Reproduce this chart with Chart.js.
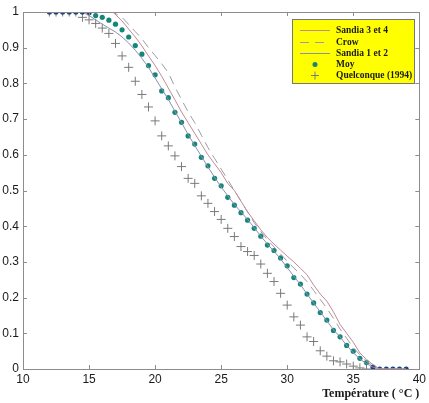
<!DOCTYPE html>
<html>
<head>
<meta charset="utf-8">
<script src="https://cdn.jsdelivr.net/npm/chart.js@4"></script>
<style>
  html, body { margin: 0; padding: 0; background: #fff; overflow: hidden; }
  #chart { display: block; }
</style>
</head>
<body>
<canvas id="chart" width="429" height="403"></canvas>
<script>
// Data.
var moyTemp = [12,12.5,13,13.5,14,14.5,15,15.5,16,16.5,17,17.5,18,18.5,19,19.5,20,20.5,21,21.5,22,22.5,23,23.5,24,24.5,25,25.5,26,26.5,27,27.5,28,28.5,29,29.5,30,30.5,31,31.5,32,32.5,33,33.5,34,34.5,35,35.5,36,36.5,37,37.5,38,38.5,39];
var moyValues = [1,1,1,1,1,1,0.998,0.99,0.985,0.977,0.966,0.95,0.93,0.906,0.882,0.85,0.824,0.779,0.76,0.719,0.691,0.653,0.63,0.593,0.569,0.534,0.513,0.481,0.459,0.438,0.417,0.394,0.372,0.347,0.332,0.311,0.289,0.256,0.238,0.21,0.185,0.158,0.137,0.108,0.09,0.066,0.05,0.03,0.018,0.005,0,0,0,0,0];

var quelTemp = [12,12.5,13,13.5,14,14.5,15,15.5,16,16.5,17,17.5,18,18.5,19,19.5,20,20.5,21,21.5,22,22.5,23,23.5,24,24.5,25,25.5,26,26.5,27,27.5,28,28.5,29,29.5,30,30.5,31,31.5,32,32.5,33,33.5,34,34.5,35,35.5,36];
var quelValues = [1,1,1,1,1,0.985,0.978,0.968,0.955,0.94,0.912,0.877,0.845,0.806,0.769,0.734,0.695,0.653,0.625,0.597,0.567,0.534,0.52,0.485,0.464,0.441,0.419,0.394,0.371,0.343,0.329,0.318,0.294,0.268,0.245,0.212,0.179,0.146,0.123,0.09,0.077,0.051,0.036,0.023,0.02,0.014,0.008,0.003,0];

var sandiaTemp = [12,16.8,17.5,18,18.5,19,19.5,20,20.5,21,21.5,22,22.5,23,23.5,24,24.5,25,25.5,26,26.5,27,27.5,28,28.5,29,29.5,30,30.5,31,31.5,32,32.5,33,33.5,34,34.5,35,35.5,36,36.5,37,39];
var sandia34Values = [1,1,0.975,0.952,0.93,0.905,0.877,0.85,0.82,0.787,0.754,0.72,0.69,0.66,0.63,0.6,0.575,0.55,0.52,0.5,0.47,0.44,0.415,0.39,0.368,0.35,0.333,0.316,0.3,0.282,0.264,0.235,0.21,0.19,0.16,0.125,0.1,0.075,0.045,0.027,0.012,0,0];
var crowValues = [1,1,0.985,0.965,0.945,0.925,0.9,0.878,0.855,0.83,0.79,0.755,0.72,0.69,0.655,0.62,0.59,0.56,0.53,0.5,0.47,0.44,0.41,0.385,0.362,0.342,0.322,0.302,0.283,0.265,0.245,0.22,0.195,0.17,0.142,0.112,0.086,0.06,0.04,0.022,0.008,0,0];

var sandia12Temp = [12,14.5,15,15.5,16,16.5,17,17.5,18,18.5,19,19.5,20,20.5,21,21.5,22,22.5,23,23.5,24,24.5,25,25.5,26,26.5,27,27.5,28,28.5,29,29.5,30,30.5,31,31.5,32,32.5,33,33.5,34,34.5,35,35.5,36,36.5,37,39];
var sandia12Values = [1,1,0.99,0.978,0.966,0.955,0.944,0.93,0.913,0.893,0.87,0.845,0.815,0.785,0.755,0.722,0.69,0.657,0.626,0.596,0.566,0.537,0.51,0.485,0.461,0.44,0.419,0.396,0.372,0.35,0.33,0.308,0.284,0.26,0.236,0.21,0.185,0.16,0.135,0.11,0.09,0.066,0.046,0.028,0.015,0.005,0,0];

var xTicks = [10, 15, 20, 25, 30, 35, 40];
var yTicks = [0, 0.1, 0.2, 0.3, 0.4, 0.5, 0.6, 0.7, 0.8, 0.9, 1];
var yTickLabels = ['0', '0.1', '0.2', '0.3', '0.4', '0.5', '0.6', '0.7', '0.8', '0.9', '1'];

function toPoints(xs, ys) {
  var pts = [];
  for (var i = 0; i < xs.length; i++) {
    pts.push({x: xs[i], y: ys[i]});
  }
  return pts;
}

// Frame with inward ticks, matlab style.
var framePlugin = {
  id: 'frame',
  afterDatasetsDraw: function (chart) {
    var ctx = chart.ctx;
    var a = chart.chartArea;
    var xs = chart.scales.x, ys = chart.scales.y;
    ctx.save();
    ctx.strokeStyle = '#8c8c8c';
    ctx.lineWidth = 1;
    ctx.strokeRect(Math.round(a.left) + 0.5, Math.round(a.top) + 0.5, Math.round(a.right - a.left), Math.round(a.bottom - a.top));
    ctx.beginPath();
    xTicks.forEach(function (t) {
      var px = Math.round(xs.getPixelForValue(t)) + 0.5;
      ctx.moveTo(px, a.bottom); ctx.lineTo(px, a.bottom - 4);
      ctx.moveTo(px, a.top); ctx.lineTo(px, a.top + 4);
    });
    yTicks.forEach(function (t) {
      var py = Math.round(ys.getPixelForValue(t)) + 0.5;
      ctx.moveTo(a.left, py); ctx.lineTo(a.left + 4, py);
      ctx.moveTo(a.right, py); ctx.lineTo(a.right - 4, py);
    });
    ctx.stroke();
    ctx.restore();
  },
  afterDraw: function (chart) {
    // Legend box.
    var ctx = chart.ctx;
    var bx = 292, by = 19, bw = 122, bh = 64;
    ctx.save();
    ctx.fillStyle = '#ffff00';
    ctx.fillRect(bx, by, bw, bh);
    ctx.strokeStyle = '#777';
    ctx.lineWidth = 1;
    ctx.strokeRect(bx + 0.5, by + 0.5, bw, bh);
    ctx.font = 'bold 9.5px "Liberation Serif", "Times New Roman", serif';
    ctx.textBaseline = 'middle';
    var rowY = [30, 42, 53, 64, 75];
    chart.data.datasets.forEach(function (ds, i) {
      var y = rowY[i] + 0.5;
      ctx.strokeStyle = ds.borderColor;
      ctx.lineWidth = 1;
      if (ds.showLine) {
        ctx.setLineDash(ds.borderDash || []);
        ctx.beginPath();
        ctx.moveTo(300, y); ctx.lineTo(330, y);
        ctx.stroke();
        ctx.setLineDash([]);
      } else if (ds.pointStyle === 'cross') {
        ctx.beginPath();
        ctx.moveTo(311, y); ctx.lineTo(319, y);
        ctx.moveTo(315, y - 4); ctx.lineTo(315, y + 4);
        ctx.stroke();
      } else {
        ctx.fillStyle = '#14877a';
        ctx.beginPath();
        ctx.arc(315, y, 2.5, 0, Math.PI * 2);
        ctx.fill();
      }
      ctx.fillStyle = '#1a1a1a';
      ctx.fillText(ds.label, 336, y);
    });
    ctx.restore();
  }
};

var ctx = document.getElementById('chart').getContext('2d');
var chart = new Chart(ctx, {
  type: 'scatter',
  data: {
    datasets: [{
      label: 'Sandia 3 et 4',
      data: toPoints(sandiaTemp, sandia34Values),
      showLine: true,
      borderColor: '#c08a98',
      borderWidth: 1,
      pointRadius: 0,
      tension: 0
    }, {
      label: 'Crow',
      data: toPoints(sandiaTemp, crowValues),
      showLine: true,
      borderColor: '#a09aa6',
      borderDash: [9, 6],
      borderWidth: 1,
      pointRadius: 0,
      tension: 0
    }, {
      label: 'Sandia 1 et 2',
      data: toPoints(sandia12Temp, sandia12Values),
      showLine: true,
      borderColor: '#8a90b0',
      borderWidth: 1,
      pointRadius: 0,
      tension: 0
    }, {
      label: 'Moy',
      data: toPoints(moyTemp, moyValues),
      showLine: false,
      pointStyle: 'circle',
      pointRadius: 2.6,
      borderWidth: 0,
      borderColor: '#14877a',
      backgroundColor: function (c) {
        var v = c.raw ? c.raw.y : 0.5;
        return (v >= 0.995 || v <= 0.006) ? '#1d3f86' : '#14877a';
      }
    }, {
      label: 'Quelconque (1994)',
      data: toPoints(quelTemp, quelValues),
      showLine: false,
      pointStyle: 'cross',
      pointRadius: 4.5,
      borderWidth: 1,
      borderColor: '#7a7a7a'
    }]
  },
  options: {
    responsive: false,
    animation: false,
    layout: { padding: { top: 12, right: 7, left: 0, bottom: 0 } },
    plugins: {
      legend: { display: false },
      tooltip: { enabled: false }
    },
    scales: {
      x: {
        type: 'linear',
        min: 10,
        max: 40,
        afterBuildTicks: function (s) { s.ticks = xTicks.map(function (v) { return {value: v}; }); },
        grid: { display: false, drawTicks: false },
        border: { display: false },
        ticks: { color: '#1a1a1a', padding: 3, autoSkip: false, font: { family: 'Arial, "Liberation Sans", sans-serif', size: 12 }, maxRotation: 0 },
        title: {
          display: true,
          text: 'Température ( °C )',
          align: 'end',
          color: '#1a1a1a',
          padding: { top: 0, bottom: 2 },
          font: { family: '"Liberation Serif", "Times New Roman", serif', size: 12, weight: 'bold' }
        },
        afterFit: function (s) { s.height = 34; }
      },
      y: {
        type: 'linear',
        min: 0,
        max: 1,
        afterBuildTicks: function (s) { s.ticks = yTicks.map(function (v) { return {value: v}; }); },
        grid: { display: false, drawTicks: false },
        border: { display: false },
        ticks: {
          color: '#1a1a1a', padding: 4, autoSkip: false,
          font: { family: 'Arial, "Liberation Sans", sans-serif', size: 12 },
          callback: function (v, i) { return yTickLabels[i]; }
        },
        afterFit: function (s) { s.width = 23; }
      }
    }
  },
  plugins: [framePlugin]
});
</script>
</body>
</html>
